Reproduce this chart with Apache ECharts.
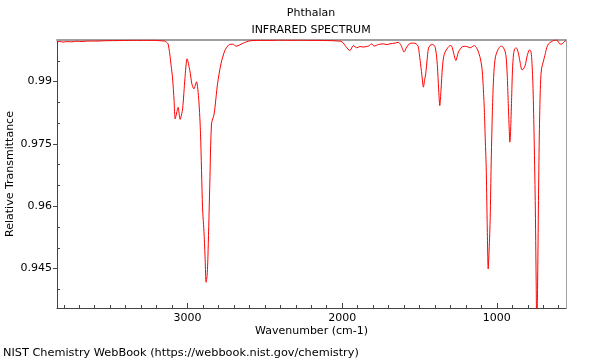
<!DOCTYPE html>
<html><head><meta charset="utf-8">
<script src="https://cdn.jsdelivr.net/npm/echarts@6/dist/echarts.min.js"></script>
<style>html,body{margin:0;padding:0;background:#fff}#c{width:600px;height:360px}</style>
</head><body><div id="c"></div>
<script>
const wavenumber = [3845,3826,3806,3780,3748,3716,3683,3645,3600,3535,3470,3405,3308,3211,3179,3147,3136,3126,3115,3106,3097,3087,3080,3073,3061,3048,3032,3017,3003,2985,2972,2959,2942,2927,2916,2903,2893,2886,2880,2873,2867,2856,2845,2828,2806,2784,2759,2733,2705,2687,2661,2640,2597,2532,2470,2403,2340,2273,2210,2144,2080,2047,2001,1975,1950,1928,1906,1885,1865,1841,1827,1809,1794,1766,1734,1710,1691,1658,1637,1619,1600,1583,1561,1540,1522,1509,1496,1485,1475,1467,1460,1451,1443,1432,1417,1406,1399,1391,1384,1377,1369,1361,1352,1344,1335,1318,1302,1291,1281,1265,1257,1249,1227,1212,1194,1173,1146,1131,1119,1108,1097,1089,1081,1076,1069,1063,1056,1050,1043,1037,1030,1024,1017,1009,1000,988,974,966,957,946,940,933,927,920,916,911,905,899,892,885,875,868,860,849,838,830,817,804,789,781,775,767,760,752,746,742,737,731,726,720,715,709,700,687,678,666,649,634,616,607,595,584,573,561,553];
const transmittance = [0.99951,0.99966,0.99949,0.99961,0.99956,0.99970,0.99963,0.99975,0.99973,0.99982,0.99985,0.99990,0.99992,0.99992,0.99982,0.99973,0.99949,0.99908,0.99667,0.99378,0.99089,0.98542,0.98102,0.98198,0.98379,0.98090,0.98343,0.99065,0.99547,0.99265,0.98945,0.98824,0.98993,0.98542,0.97741,0.95976,0.95333,0.94707,0.94170,0.94346,0.94930,0.96537,0.97981,0.98222,0.98945,0.99426,0.99746,0.99884,0.99900,0.99848,0.99884,0.99925,0.99980,0.99992,0.99990,0.99997,0.99993,0.99995,0.99991,0.99990,0.99985,0.99980,0.99956,0.99836,0.99746,0.99867,0.99812,0.99843,0.99831,0.99843,0.99860,0.99908,0.99852,0.99891,0.99908,0.99889,0.99908,0.99925,0.99944,0.99867,0.99708,0.99828,0.99920,0.99925,0.99908,0.99848,0.99506,0.99161,0.98865,0.99041,0.99185,0.99523,0.99787,0.99872,0.99891,0.99872,0.99828,0.99643,0.99347,0.98848,0.98422,0.98800,0.99347,0.99595,0.99708,0.99812,0.99867,0.99848,0.99708,0.99506,0.99595,0.99708,0.99828,0.99848,0.99843,0.99812,0.99867,0.99812,0.99708,0.99571,0.99347,0.98945,0.98318,0.97717,0.96939,0.95670,0.94490,0.94947,0.95735,0.96994,0.98143,0.98848,0.99347,0.99595,0.99708,0.99799,0.99852,0.99848,0.99812,0.99715,0.99588,0.99161,0.98542,0.97837,0.97541,0.97837,0.98542,0.99282,0.99667,0.99787,0.99812,0.99775,0.99667,0.99450,0.99282,0.99294,0.99385,0.99619,0.99763,0.99739,0.99571,0.98945,0.97837,0.96134,0.94225,0.93000,0.94000,0.96134,0.97596,0.98704,0.99161,0.99347,0.99474,0.99667,0.99812,0.99908,0.99956,0.99987,1.00000,0.99980,0.99908,0.99900,0.99925,0.99968,0.99987];
const xMajorTicks = [1000, 2000, 3000];
const xMinorTicks = [600,700,800,900,1100,1200,1300,1400,1500,1600,1700,1800,1900,2100,2200,2300,2400,2500,2600,2700,2800,2900,3100,3200,3300,3400,3500,3600,3700,3800];
const yMajorTicks = [0.945, 0.96, 0.975, 0.99];
const yMinorTicks = [0.94, 0.95, 0.955, 0.965, 0.97, 0.98, 0.985, 0.995];
const xRange = [553, 3844];
const yRange = [0.9355, 1.0];

const FONT = '"DejaVu Sans", sans-serif';
const axisDark = '#444';
const borderGray = '#a0a0a0';
const chart = echarts.init(document.getElementById('c'), null, {renderer: 'canvas'});

function xAx(extra) {
  return Object.assign({type: 'value', min: xRange[0], max: xRange[1], inverse: true,
    splitLine: {show: false}, axisLabel: {show: false}, axisTick: {show: false}, axisLine: {show: false}}, extra);
}
function yAx(extra) {
  return Object.assign({type: 'value', min: yRange[0], max: yRange[1],
    splitLine: {show: false}, axisLabel: {show: false}, axisTick: {show: false}, axisLine: {show: false}}, extra);
}

chart.setOption({
  animation: false,
  backgroundColor: '#fff',
  grid: {left: 57, right: 34, top: 40, bottom: 52, containLabel: false, outerBoundsMode: 'none'},
  graphic: [
    {type: 'text', x: 311, y: 13.5, style: {text: 'Phthalan', font: '11px ' + FONT, fill: '#000', align: 'center', verticalAlign: 'middle'}},
    {type: 'text', x: 311, y: 30.5, style: {text: 'INFRARED SPECTRUM', font: '11px ' + FONT, fill: '#000', align: 'center', verticalAlign: 'middle'}},
    {type: 'text', x: 3, y: 353, style: {text: 'NIST Chemistry WebBook (https://webbook.nist.gov/chemistry)', font: '11.3px ' + FONT, fill: '#000', align: 'left', verticalAlign: 'middle'}}
  ],
  xAxis: [
    xAx({position: 'bottom',
      axisLine: {show: true, onZero: false, lineStyle: {color: axisDark, width: 1}},
      axisTick: {show: true, inside: true, length: 5, customValues: xMajorTicks, lineStyle: {color: axisDark}},
      axisLabel: {show: true, customValues: xMajorTicks, margin: 5, color: '#000', fontSize: 11, fontFamily: FONT, formatter: v => String(v)},
      name: 'Wavenumber (cm-1)', nameLocation: 'middle', nameGap: 18, nameMoveOverlap: false,
      nameTextStyle: {color: '#000', fontSize: 11, fontFamily: FONT}}),
    xAx({position: 'bottom',
      axisTick: {show: true, inside: true, length: 3, customValues: xMinorTicks, lineStyle: {color: axisDark}}}),
    xAx({position: 'top',
      axisLine: {show: true, onZero: false, lineStyle: {color: borderGray, width: 2}}})
  ],
  yAxis: [
    yAx({position: 'left',
      axisLine: {show: true, onZero: false, lineStyle: {color: axisDark, width: 1}},
      axisTick: {show: true, inside: false, length: 4, customValues: yMajorTicks, lineStyle: {color: axisDark}},
      axisLabel: {show: true, customValues: yMajorTicks, margin: 5, color: '#000', fontSize: 11, fontFamily: FONT, formatter: v => String(v)},
      name: 'Relative Transmittance', nameLocation: 'middle', nameGap: 41, nameMoveOverlap: false,
      nameTextStyle: {color: '#000', fontSize: 11, fontFamily: FONT}}),
    yAx({position: 'left',
      axisTick: {show: true, inside: true, length: 3, customValues: yMinorTicks, lineStyle: {color: axisDark}}}),
    yAx({position: 'right',
      axisLine: {show: true, onZero: false, lineStyle: {color: borderGray, width: 1}}})
  ],
  series: [{
    type: 'line',
    xAxisIndex: 0, yAxisIndex: 0,
    data: wavenumber.map((w, i) => [w, transmittance[i]]),
    showSymbol: false,
    smooth: 0.25,
    clip: true,
    lineStyle: {color: '#ff0000', width: 1},
    z: 1
  }]
});
</script>
</body></html>
